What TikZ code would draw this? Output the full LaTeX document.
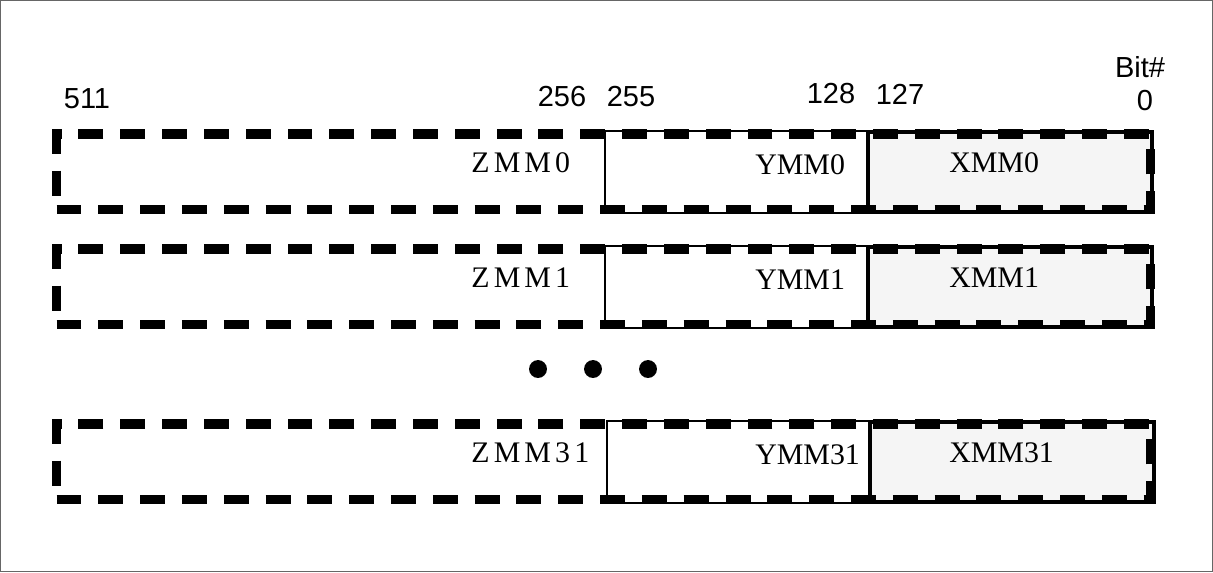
\documentclass[tikz,border=0pt]{standalone}
\usepackage{fontspec}
\setmainfont{Liberation Serif}
\newfontfamily\bitfont{Liberation Sans}
\newfontfamily\widefont[LetterSpace=14]{Liberation Serif}
\tikzset{%
  zmmbox/.style={draw,line width=5.3pt,dash pattern=on 14.2pt off 9.6pt,minimum width=622.5pt,minimum height=43.1pt,inner sep=0pt,outer sep=0pt,anchor=north west},
  ymmbox/.style={draw,fill=white,line width=1.2pt,minimum width=149.1pt,minimum height=46.5pt,inner sep=0pt,outer sep=0pt,anchor=north west},
  xmmbox/.style={draw,fill=black!4,line width=2.2pt,minimum width=161.6pt,minimum height=45.4pt,inner sep=0pt,outer sep=0pt,anchor=north west},
  RegName/.style={font=\fontsize{17}{20}\selectfont,inner sep=0pt,anchor=west},
  BitNum/.style={font=\bitfont\fontsize{16.5}{19}\selectfont,inner sep=0pt},
  dot/.style={circle,fill,minimum size=10.2pt,inner sep=0pt}
}

\begin{document}
\begin{tikzpicture}[x=0.02cm,y=-0.02cm]
\useasboundingbox (0,0) rectangle (1213,572);
\draw [black!60,line width=0.6pt] (0.5,0.5) rectangle (1212.5,571.5);

\foreach \r/\t/\s in {0/134/0,1/249/0,31/424/2} {
    \node (xmm\r) [xmmbox] at (868+\s,\t-2) {};
    \node (ymm\r) [ymmbox] at (605+\s,\t-3) {};
    \node (zmm\r) [zmmbox] at (56.5,\t) {};
    \node (zname\r) [RegName,font=\widefont\fontsize{17}{20}\selectfont] at (471,\t+29) {ZMM\r};
    \node (yname\r) [RegName] at (755,\t+31) {YMM\r};
    \node (xname\r) [RegName] at (949,\t+29) {XMM\r};
}

\node (b511) [BitNum] at (87,99) {511};
\node (b256) [BitNum] at (562,97) {256};
\node (b255) [BitNum] at (631,97) {255};
\node (b128) [BitNum] at (831,94) {128};
\node (b127) [BitNum] at (900,94) {127};
\node (bhead) [BitNum] at (1140,67) {Bit\#};
\node (b0) [BitNum] at (1145,101) {0};

\node (dot1) [dot] at (538,369) {};
\node (dot2) [dot] at (593,369) {};
\node (dot3) [dot] at (648,369) {};
\end{tikzpicture}
\end{document}
